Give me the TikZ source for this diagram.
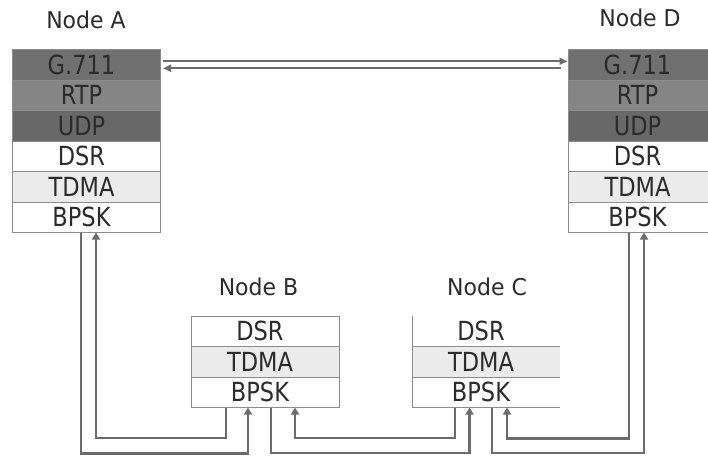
\documentclass[tikz,border=0pt]{standalone}
\usepackage{graphicx}
\usepackage{fontspec}
\setmainfont{DejaVu Sans}
\usetikzlibrary{arrows.meta,positioning}
\definecolor{linkgray}{HTML}{6B6B6B}
\definecolor{boxgray}{HTML}{8C8C8C}
\definecolor{textdark}{HTML}{2B2B2B}
\definecolor{appgray}{HTML}{707070}
\definecolor{rtpgray}{HTML}{858585}
\definecolor{udpgray}{HTML}{686868}
\definecolor{macgray}{HTML}{EBEBEB}
\newcommand{\layertext}[1]{\scalebox{1}[1.17]{#1}}

\begin{document}
\begin{tikzpicture}[
    x=1pt, y=-1pt,
    row/.style={rectangle, minimum width=148pt, minimum height=30.5pt, inner sep=0pt, outer sep=0pt,
      draw=boxgray, line width=1pt, text=textdark, font=\fontsize{22.5}{26}\selectfont,
      execute at end node={\hspace*{10pt}}},
    plain/.style={row, fill=white},
    mac/.style={row, fill=macgray},
    g711/.style={row, fill=appgray},
    rtp/.style={row, fill=rtpgray},
    udp/.style={row, fill=udpgray},
    bare/.style={draw=none},
    nodelabel/.style={text=textdark, font=\fontsize{22}{26}\selectfont},
    link/.style={linkgray, line width=2.6pt},
    tip/.style={link, -{Triangle[length=7pt,width=8pt]}},
    voice/.style={linkgray, line width=2pt, -{Triangle[length=8pt,width=7pt]}}
  ]
    \useasboundingbox (0,0) rectangle (708,456);
    % node A
    \node[nodelabel] (lblA) at (86,20) {\scalebox{1}[1.05]{Node A}};
    \node[g711, minimum height=31pt] (aG) at (86.5,64.5) {\layertext{G.711}};
    \node[rtp, below=0pt of aG] (aR) {\layertext{RTP}};
    \node[udp, below=0pt of aR] (aU) {\layertext{UDP}};
    \node[plain, below=0pt of aU] (aD) {\layertext{DSR}};
    \node[mac, below=0pt of aD] (aT) {\layertext{TDMA}};
    \node[plain, below=0pt of aT] (aB) {\layertext{BPSK}};
    % node D
    \node[nodelabel] (lblD) at (640,18) {\scalebox{1}[1.05]{Node D}};
    \node[g711, minimum width=149pt, minimum height=31pt] (dG) at (642.5,64.5) {\layertext{G.711}};
    \node[rtp, minimum width=149pt, below=0pt of dG] (dR) {\layertext{RTP}};
    \node[udp, minimum width=149pt, below=0pt of dR] (dU) {\layertext{UDP}};
    \node[plain, minimum width=149pt, below=0pt of dU] (dD) {\layertext{DSR}};
    \node[mac, minimum width=149pt, below=0pt of dD] (dT) {\layertext{TDMA}};
    \node[plain, minimum width=149pt, below=0pt of dT] (dB) {\layertext{BPSK}};
    % node B
    \node[nodelabel] (lblB) at (258.5,287) {\scalebox{1}[1.05]{Node B}};
    \node[plain] (bD) at (265,331.25) {\layertext{DSR}};
    \node[mac, below=0pt of bD] (bT) {\layertext{TDMA}};
    \node[plain, below=0pt of bT] (bB) {\layertext{BPSK}};
    % node C
    \node[nodelabel] (lblC) at (487,287) {\scalebox{1}[1.05]{Node C}};
    \node[plain, bare] (cD) at (486,331.25) {\layertext{DSR}};
    \node[mac, bare, below=0pt of cD] (cT) {\layertext{TDMA}};
    \node[plain, bare, below=0pt of cT] (cB) {\layertext{BPSK}};
    \draw[boxgray, line width=1pt] (cD.north west) -- (cB.south west) -- (cB.south east);
    \draw[boxgray, line width=1pt] (cT.north west) -- (cT.north east);
    \draw[boxgray, line width=1pt] (cT.south west) -- (cT.south east);
    % voice stream A <-> D
    \draw[voice, shorten <=2.5pt, shorten >=0.5pt] ([yshift=3.25pt]aG.east) -- ([yshift=3.25pt]dG.west);
    \draw[voice, shorten <=7pt, shorten >=2.5pt] ([yshift=-3.75pt]dG.west) -- ([yshift=-3.75pt]aG.east);
    % radio links
    \draw[tip] ([xshift=-5.5pt]aB.south) -- ++(0,221) -| ([xshift=-17pt]bB.south);
    \draw[tip] ([xshift=-39pt]bB.south) -- ++(0,30.5) -| ([xshift=9.5pt]aB.south);
    \draw[tip] ([xshift=6pt]bB.south) -- ++(0,45.5) -| ([xshift=-16.5pt]cB.south);
    \draw[tip] ([xshift=-31pt]cB.south) -- ++(0,30.5) -| ([xshift=30pt]bB.south);
    \draw[tip] ([xshift=6pt]cB.south) -- ++(0,45.5) -| ([xshift=1.5pt]dB.south);
    \draw[tip] ([xshift=-13.5pt]dB.south) -- ++(0,206) -| ([xshift=21pt]cB.south);
  \end{tikzpicture}
\end{document}
